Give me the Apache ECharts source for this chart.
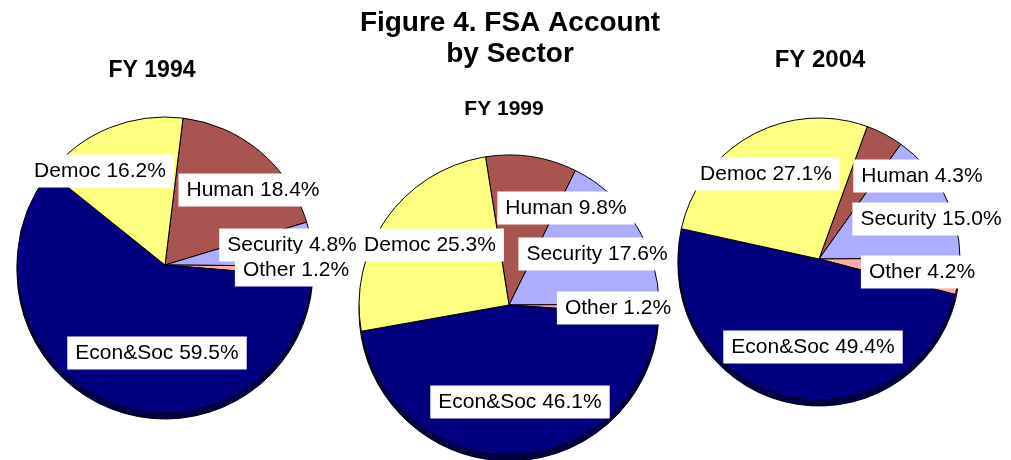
<!DOCTYPE html>
<html>
<head>
<meta charset="utf-8">
<script src="https://cdn.jsdelivr.net/npm/echarts@6/dist/echarts.min.js"></script>
<style>
html,body{margin:0;padding:0;background:#fff;}
#chart{width:1011px;height:460px;}
</style>
</head>
<body>
<div id="chart"></div>
<script>
// ---- data ----
var categories = ['Human', 'Security', 'Other', 'Econ&Soc', 'Democ'];
var fy1994 = [18.4, 4.8, 1.2, 59.5, 16.2];
var fy1999 = [9.8, 17.6, 1.2, 46.1, 25.3];
var fy2004 = [4.3, 15.0, 4.2, 49.4, 27.1];
var pieTitles = ['FY 1994', 'FY 1999', 'FY 2004'];
var mainTitle = 'Figure 4. FSA Account\nby Sector';

// ---- styling / layout ----
var colors = ['#A9544F', '#ADADFF', '#FFA9A9', '#000080', '#FFFF80'];
var depthColors = ['#5a2a28', '#5c5c99', '#99605f', '#00004a', '#99994a'];
var pies = [
  {values: fy1994, center: [165, 265], r: 148, start: 83, depth: 6,
   labelOff: [[88, -75], [127, -20], [131, 5], [-8, 88], [-65, -94]]},
  {values: fy1999, center: [509, 305], r: 150, start: 99, depth: 6,
   labelOff: [[57, -97], [88, -51], [109, 3], [11, 97], [-79, -60]]},
  {values: fy2004, center: [819, 259], r: 141, start: 70, depth: 6,
   labelOff: [[103, -83], [112, -40], [103, 13], [-6, 88], [-53, -85]]}
];
var subTitlePos = [[152, 59, 23], [504, 99, 21], [820, 48, 24]];

var chart = echarts.init(document.getElementById('chart'));

var titles = [{
  text: mainTitle, left: 510, top: 8, textAlign: 'center', padding: 0,
  textStyle: {fontFamily: 'Liberation Sans, Arial, sans-serif', fontSize: 28, fontWeight: 'bold', lineHeight: 31, color: '#000'}
}];
pieTitles.forEach(function (t, i) {
  titles.push({
    text: t, left: subTitlePos[i][0], top: subTitlePos[i][1], textAlign: 'center', padding: 0,
    textStyle: {fontFamily: 'Liberation Sans, Arial, sans-serif', fontSize: subTitlePos[i][2], fontWeight: 'bold', color: '#000'}
  });
});

var series = [];
pies.forEach(function (p, pi) {
  // depth (3D edge) layer
  series.push({
    type: 'pie', silent: true, z: 1,
    center: [p.center[0], p.center[1] + p.depth], radius: p.r,
    startAngle: p.start, clockwise: true, animation: false,
    label: {show: false}, labelLine: {show: false},
    itemStyle: {borderColor: '#000', borderWidth: 1},
    data: categories.map(function (c, i) {
      return {name: c, value: p.values[i], itemStyle: {color: depthColors[i]}};
    })
  });
  // top face
  series.push({
    type: 'pie', silent: true, z: 2,
    center: p.center, radius: p.r,
    startAngle: p.start, clockwise: true, animation: false,
    avoidLabelOverlap: false,
    itemStyle: {borderColor: '#000', borderWidth: 1},
    label: {
      show: true, position: 'inside',
      formatter: function (d) { return d.name + ' ' + d.value.toFixed(1) + '%'; },
      color: '#000', fontSize: 21, fontFamily: 'Liberation Sans, Arial, sans-serif',
      backgroundColor: '#fff', padding: [5, 8, 4, 8], lineHeight: 24
    },
    labelLine: {show: false},
    labelLayout: function (params) {
      var off = p.labelOff[params.dataIndex];
      return {x: p.center[0] + off[0], y: p.center[1] + off[1], align: 'center', verticalAlign: 'middle'};
    },
    data: categories.map(function (c, i) {
      return {name: c, value: p.values[i], itemStyle: {color: colors[i]}};
    })
  });
});

chart.setOption({
  backgroundColor: '#fff',
  animation: false,
  title: titles,
  series: series
});
</script>
</body>
</html>
